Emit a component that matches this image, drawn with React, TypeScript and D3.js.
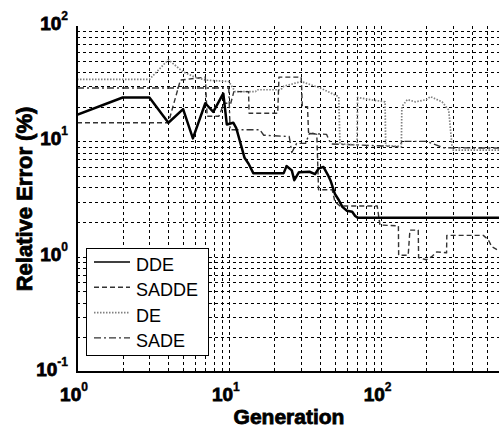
import { useEffect, useRef } from "react";
import * as d3 from "d3";

// generation / relative error (%)
const ddeGen = [1, 2, 3, 4, 5, 5.8, 7, 7.9, 9.2, 9.7, 10.7, 11.2, 12.7, 13.5, 14.5, 23, 24, 26, 27, 29, 34, 37, 39, 42, 45, 47, 50, 53, 56, 60, 65, 68, 71, 1000];
const ddeErr = [17, 24, 24, 14.5, 19, 10.6, 21.4, 18, 26, 14, 14.5, 13, 7.2, 6.4, 5.3, 5.3, 6.1, 5.6, 4.6, 5.4, 5.45, 5.2, 5.8, 6.0, 5.1, 4.5, 3.5, 3.1, 2.7, 2.5, 2.45, 2.25, 2.17, 2.17];

const saddeGen = [1, 4, 4.8, 7, 7.2, 8.6, 9.3, 10.3, 10.8, 13.5, 13.6, 21, 21.4, 30, 30.5, 33, 33.5, 38, 39, 48, 50, 54, 95, 99, 131, 131.5, 152, 156, 177, 178, 200, 217, 234, 272, 273, 475, 512, 540, 600, 1000];
const saddeErr = [14.5, 14.5, 34, 36, 16.5, 16.5, 21.4, 21.4, 27, 27, 17.5, 17.5, 36, 36, 20, 20, 12, 11.5, 3.8, 3.8, 3.0, 2.75, 2.75, 1.88, 1.85, 1.03, 1.03, 1.7, 1.7, 0.98, 0.94, 1.0, 1.1, 1.08, 1.53, 1.53, 1.4, 1.22, 1.13, 1.1];

const deGen = [1, 3, 4, 5, 6, 7, 10, 11, 15, 15.3, 22, 23, 30, 40, 53, 54, 70, 70.5, 85, 107, 108, 137, 138, 150, 170, 200, 213, 254, 281, 297, 1000];
const deErr = [34.5, 34.5, 51, 40, 36, 34, 33, 27, 27, 28, 28, 30, 33, 29, 24.4, 9.5, 9.3, 24, 23, 22, 9.2, 9.0, 20, 23, 22, 23, 24.4, 22, 18.7, 8.4, 8.4];

const sadeGen = [1, 10, 10.2, 16, 17, 25, 26, 28, 32, 34, 44, 47, 130, 140, 200, 260, 1000];
const sadeErr = [29, 29, 12.6, 12.6, 11.3, 11, 8, 9.6, 9.6, 11.7, 11.5, 9.5, 9.0, 10, 10, 8.8, 8.7];

const xTickExp = [0, 1, 2];
const yTickExp = [-1, 0, 1, 2];

const seriesNames = ["DDE", "SADDE", "DE", "SADE"];

const App = () => {
  const svgRef = useRef(null);
  const width = 499;
  const height = 427;

  useEffect(() => {
    const svg = d3.select(svgRef.current);
    svg.selectAll("*").remove();

    const left = 77;
    const top = 26;
    const bottom = 372;
    const decadeX = 151.8;

    const x = d3.scaleLog().domain([1, 1000]).range([left, left + 3 * decadeX]);
    const y = d3.scaleLog().domain([0.1, 100]).range([bottom, top]);

    // grid
    const grid = svg.append("g").attr("stroke", "#000").attr("stroke-width", 1).attr("stroke-dasharray", "3,3");
    x.ticks().filter((t) => t > 1).forEach((t) => {
      grid.append("line")
        .attr("x1", Math.round(x(t)) + 0.5).attr("x2", Math.round(x(t)) + 0.5)
        .attr("y1", top).attr("y2", bottom);
    });
    y.ticks().filter((t) => t < 100).forEach((t) => {
      grid.append("line")
        .attr("x1", left).attr("x2", width)
        .attr("y1", Math.round(y(t)) + 0.5).attr("y2", Math.round(y(t)) + 0.5);
    });

    // lines
    const clip = svg.append("clipPath").attr("id", "plotclip");
    clip.append("rect").attr("x", left).attr("y", top).attr("width", width - left).attr("height", bottom - top);

    const line = d3.line().x((d) => x(d[0])).y((d) => y(d[1]));
    const styles = [
      { gen: sadeGen, err: sadeErr, stroke: "#333", w: 1.4, dash: "7,3,2,3" },
      { gen: deGen, err: deErr, stroke: "#808080", w: 1.7, dash: "1.5,1.5" },
      { gen: saddeGen, err: saddeErr, stroke: "#333", w: 1.4, dash: "5,3" },
      { gen: ddeGen, err: ddeErr, stroke: "#000", w: 2.5, dash: null },
    ];
    const plot = svg.append("g").attr("clip-path", "url(#plotclip)");
    styles.forEach((s) => {
      plot.append("path")
        .datum(s.gen.map((g, i) => [g, s.err[i]]))
        .attr("fill", "none")
        .attr("stroke", s.stroke)
        .attr("stroke-width", s.w)
        .attr("stroke-dasharray", s.dash)
        .attr("stroke-linejoin", "round")
        .attr("d", line);
    });

    // axes lines
    svg.append("line").attr("x1", left).attr("x2", left).attr("y1", top).attr("y2", bottom + 1)
      .attr("stroke", "#000").attr("stroke-width", 2);
    svg.append("line").attr("x1", left - 1).attr("x2", width).attr("y1", bottom).attr("y2", bottom)
      .attr("stroke", "#000").attr("stroke-width", 2);

    const font = "Liberation Sans, Arial, sans-serif";

    // tick labels (heavy face, thickened with a stroke)
    xTickExp.forEach((e) => {
      const t = svg.append("text")
        .attr("x", x(Math.pow(10, e)) - 3).attr("y", 401)
        .attr("text-anchor", "middle")
        .attr("font-family", font).attr("font-weight", "bold").attr("font-size", 19)
        .attr("stroke", "#000").attr("stroke-width", 0.8);
      t.append("tspan").text("10");
      t.append("tspan").attr("dy", -10).attr("font-size", 12).attr("stroke-width", 0.4).text(e);
    });
    yTickExp.forEach((e) => {
      const t = svg.append("text")
        .attr("x", 68).attr("y", y(Math.pow(10, e)) + 4)
        .attr("text-anchor", "end")
        .attr("font-family", font).attr("font-weight", "bold").attr("font-size", 19)
        .attr("stroke", "#000").attr("stroke-width", 0.8);
      t.append("tspan").text("10");
      t.append("tspan").attr("dy", -10).attr("font-size", 12).attr("stroke-width", 0.4).text(e);
    });

    // axis titles
    svg.append("text")
      .attr("x", 289).attr("y", 424)
      .attr("text-anchor", "middle")
      .attr("font-family", font).attr("font-weight", "bold").attr("font-size", 21)
      .attr("stroke", "#000").attr("stroke-width", 0.8)
      .text("Generation");
    svg.append("text")
      .attr("transform", "translate(32,199) rotate(-90)")
      .attr("text-anchor", "middle")
      .attr("font-family", font).attr("font-weight", "bold").attr("font-size", 22)
      .attr("stroke", "#000").attr("stroke-width", 0.8)
      .text("Relative Error (%)");

    // legend
    const lg = svg.append("g");
    lg.append("rect").attr("x", 86.5).attr("y", 248.5).attr("width", 122).attr("height", 107)
      .attr("fill", "#fff").attr("stroke", "#000").attr("stroke-width", 1);
    const legendStyles = [styles[3], styles[2], styles[1], styles[0]];
    seriesNames.forEach((name, i) => {
      const cy = 265 + i * 25.3;
      const s = legendStyles[i];
      lg.append("line")
        .attr("x1", 94).attr("x2", 130).attr("y1", cy - 3).attr("y2", cy - 3)
        .attr("stroke", s.stroke).attr("stroke-width", s.w === 2.5 ? 1.6 : s.w)
        .attr("stroke-dasharray", s.dash);
      lg.append("text")
        .attr("x", 136).attr("y", cy + 6)
        .attr("font-family", font).attr("font-size", 18)
        .text(name);
    });
  }, []);

  return (
    <svg
      ref={svgRef}
      width={width}
      height={height}
      style={{ position: "absolute", left: 0, top: 0, background: "#fff" }}
    />
  );
};

export default App;
